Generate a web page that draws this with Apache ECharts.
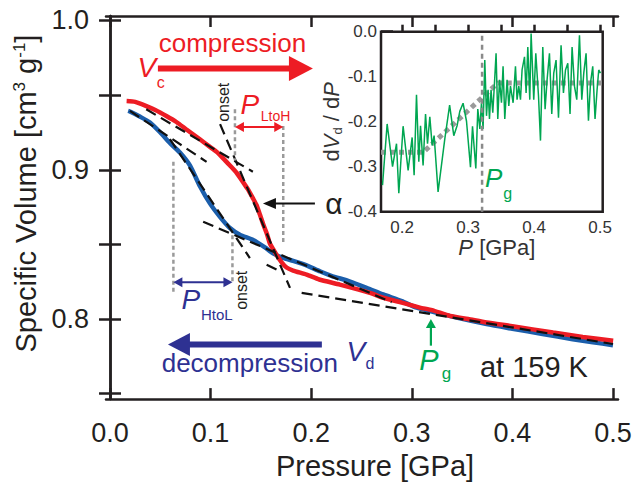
<!DOCTYPE html>
<html><head><meta charset="utf-8">
<script src="https://cdn.jsdelivr.net/npm/echarts@6/dist/echarts.min.js"></script>
<style>html,body{margin:0;padding:0;background:#fff}#c{width:641px;height:485px}</style>
</head><body><div id="c"></div>
<script>
// ---------- data ----------
const redP = [0.0165,0.025,0.035,0.045,0.056,0.066,0.076,0.089,0.100,0.106,0.112,0.119,0.1258,0.132,0.137,0.142,0.1457,0.149,0.1523,0.156,0.159,0.162,0.1656,0.170,0.1755,0.182,0.1954,0.208,0.2285,0.2583,0.2716,0.290,0.308,0.320,0.338,0.356,0.3744,0.400,0.4405,0.470,0.5002];
const redV = [0.946,0.9455,0.943,0.940,0.936,0.932,0.927,0.9206,0.915,0.912,0.908,0.903,0.898,0.892,0.887,0.881,0.8763,0.870,0.8635,0.857,0.8505,0.847,0.843,0.8385,0.8345,0.8325,0.8298,0.8265,0.8231,0.8176,0.8143,0.811,0.8077,0.806,0.8021,0.800,0.7977,0.7952,0.791,0.788,0.7855];
const blueP = [0.018,0.0198,0.030,0.0397,0.050,0.0595,0.0695,0.0794,0.0894,0.0993,0.1093,0.1192,0.1291,0.1423,0.154,0.162,0.172,0.182,0.1954,0.2086,0.220,0.238,0.255,0.2716,0.290,0.305,0.320,0.338,0.3744,0.400,0.430,0.460,0.480,0.500];
const blueV = [0.9394,0.939,0.9355,0.9317,0.925,0.918,0.9115,0.9029,0.889,0.8775,0.8685,0.861,0.8565,0.853,0.848,0.844,0.841,0.839,0.836,0.832,0.829,0.8253,0.821,0.8165,0.812,0.8076,0.805,0.802,0.7966,0.7935,0.790,0.7865,0.7845,0.7825];
// dashed tangent lines: [P1, V1, P2, V2]
const tangentLines = [
  [0.036,0.9405,0.142,0.8987],
  [0.0198,0.9394,0.096,0.9053],
  [0.0595,0.9206,0.139,0.8409],
  [0.1094,0.9306,0.1789,0.8209],
  [0.0926,0.8652,0.280,0.8113],
  [0.1905,0.8176,0.4999,0.7833],
  [0.1557,0.8364,0.1656,0.8331]
];
// dotted vertical guides: [P, Vtop, Vbottom]
const guideLines = [
  [0.063,0.9053,0.8163],
  [0.1217,0.8561,0.8242],
  [0.1242,0.9405,0.9062],
  [0.1722,0.9294,0.8497]
];
// inset: dVd/dP
const insetP = [0.1703,0.1773,0.1855,0.1915,0.1950,0.2015,0.2091,0.2152,0.2182,0.2218,0.2253,0.2279,0.2318,0.2355,0.2385,0.2420,0.2455,0.2485,0.2545,0.2647,0.2720,0.2783,0.2833,0.2874,0.2924,0.2976,0.3036,0.3067,0.3117,0.3147,0.3178,0.3203,0.3227,0.3253,0.3279,0.3303,0.3324,0.3348,0.3374,0.3400,0.3424,0.3450,0.3476,0.3506,0.3530,0.3556,0.3591,0.3617,0.3642,0.3682,0.3718,0.3742,0.3768,0.3794,0.3818,0.3855,0.3879,0.3905,0.3935,0.3955,0.3995,0.4026,0.4067,0.4097,0.4132,0.4167,0.4197,0.4233,0.4268,0.4298,0.4333,0.4370,0.4409,0.4445,0.4476,0.4511,0.4545,0.4576,0.4612,0.4647,0.4688,0.4723,0.4753,0.4788,0.4824,0.4855,0.4889,0.4924,0.4955,0.4980,0.5006];
const insetD = [-0.341,-0.205,-0.300,-0.249,-0.359,-0.210,-0.308,-0.235,-0.319,-0.140,-0.289,-0.209,-0.297,-0.183,-0.249,-0.189,-0.253,-0.231,-0.356,-0.238,-0.163,-0.231,-0.209,-0.177,-0.159,-0.199,-0.301,-0.210,-0.304,-0.172,-0.216,-0.158,-0.216,-0.063,-0.187,-0.129,-0.194,-0.129,-0.180,-0.114,-0.048,-0.194,-0.107,-0.158,-0.077,-0.194,-0.107,-0.165,-0.121,-0.158,-0.077,-0.151,-0.121,-0.151,-0.085,-0.056,-0.136,-0.034,-0.151,-0.004,-0.151,-0.048,-0.143,-0.242,-0.034,-0.172,-0.107,-0.048,-0.183,-0.092,-0.063,-0.191,-0.030,-0.136,-0.085,-0.070,-0.183,-0.034,-0.121,-0.151,-0.008,-0.151,-0.092,-0.048,-0.198,-0.114,-0.077,-0.194,-0.129,-0.085,-0.092];
const trendP = [0.168,0.232,0.345,0.504];
const trendD = [-0.268,-0.268,-0.114,-0.114];
const pgInset = 0.3212;
// tick values
const xTicks = [0,0.1,0.2,0.3,0.4,0.5];
const yTicks = [0.75,0.8,0.85,0.9,0.95,1.0];
const yLabels = [0.8,0.9,1.0];
const inXTicks = [0.2,0.25,0.3,0.35,0.4,0.45,0.5];
const inXLabels = [0.2,0.3,0.4,0.5];
const inYTicks = [-0.4,-0.3,-0.2,-0.1,0];

// ---------- style ----------
const FONT = "'Liberation Sans', Arial, Helvetica, sans-serif";
const INK = '#231f20', RED = '#ed1c24', BLUE = '#1b5eab', NAVY = '#2e3192', GREEN = '#00a651', GRAY = '#9a9a9a';

const zip = (a,b) => a.map((v,i)=>[v,b[i]]);
const chart = echarts.init(document.getElementById('c'), null, {renderer:'svg'});

function mainAxisCommon(){
  return {type:'value', axisLine:{show:true, lineStyle:{color:INK,width:2.5}},
    axisTick:{show:true, inside:true, length:11, lineStyle:{color:INK,width:2.5}},
    splitLine:{show:false}};
}
const xMain = Object.assign(mainAxisCommon(), {gridIndex:0, position:'bottom', min:-0.004, max:0.505,
  axisTick:{show:true, inside:true, length:11, lineStyle:{color:INK,width:2.5}, customValues:xTicks},
  axisLabel:{customValues:xTicks, formatter:v=>v.toFixed(1), fontSize:27, fontFamily:FONT, color:INK, margin:20},
  name:'Pressure [GPa]', nameLocation:'middle', nameGap:47,
  nameTextStyle:{fontSize:29, fontFamily:FONT, color:INK, padding:[0,0,0,26]}});
const xTop = Object.assign(mainAxisCommon(), {gridIndex:0, position:'top', min:-0.004, max:0.505,
  axisTick:{show:true, inside:true, length:11, lineStyle:{color:INK,width:2.5}, customValues:xTicks},
  axisLabel:{show:false}});
const yMain = Object.assign(mainAxisCommon(), {gridIndex:0, position:'left', min:0.7464, max:1.003,
  axisTick:{show:true, inside:true, length:11, lineStyle:{color:INK,width:2.5}, customValues:yTicks},
  axisLabel:{customValues:yLabels, formatter:v=>v.toFixed(1), fontSize:27, fontFamily:FONT, color:INK, margin:17},
  name:'Specific Volume [cm{sup|3} g{sup|-1}]', nameLocation:'middle', nameGap:62,
  nameTextStyle:{fontSize:29, fontFamily:FONT, color:INK, padding:[0,0,0,28],
    rich:{sup:{fontSize:17, fontFamily:FONT, color:INK, padding:[0,0,14,0]}}}});
const yRight = Object.assign(mainAxisCommon(), {gridIndex:0, position:'right', min:0.7464, max:1.003,
  axisTick:{show:true, inside:true, length:11, lineStyle:{color:INK,width:2.5}, customValues:yTicks},
  axisLabel:{show:false}});
const xInset = {type:'value', gridIndex:1, position:'bottom', min:0.168, max:0.504,
  axisLine:{show:false}, splitLine:{show:false},
  axisTick:{show:true, inside:true, length:7, lineStyle:{color:INK,width:2.5}, customValues:inXTicks},
  axisLabel:{customValues:inXLabels, formatter:v=>v.toFixed(1), fontSize:17, fontFamily:FONT, color:'#333', margin:7},
  name:'{i|P} [GPa]', nameLocation:'middle', nameGap:22,
  nameTextStyle:{fontSize:22, fontFamily:FONT, color:'#333', padding:[0,0,0,10],
    rich:{i:{fontStyle:'italic', fontSize:22, fontFamily:FONT, color:'#333'}}}};
const yInset = {type:'value', gridIndex:1, position:'left', min:-0.4, max:0,
  axisLine:{show:false}, splitLine:{show:false},
  axisTick:{show:true, inside:true, length:12, lineStyle:{color:INK,width:2.5}, customValues:inYTicks},
  axisLabel:{customValues:inYTicks, formatter:v=>v.toFixed(1), fontSize:17, fontFamily:FONT, color:'#333', margin:4},
  name:'d{i|V}{s|d} / d{i|P}', nameLocation:'middle', nameGap:37,
  nameTextStyle:{fontSize:22, fontFamily:FONT, color:'#333',
    rich:{i:{fontStyle:'italic', fontSize:22, fontFamily:FONT, color:'#333'},
          s:{fontSize:13, fontFamily:FONT, color:'#333', padding:[12,0,0,0]}}}};

const series = [];
series.push({type:'line', xAxisIndex:0, yAxisIndex:0, data:zip(blueP,blueV), showSymbol:false, smooth:0.2,
  lineStyle:{color:BLUE, width:4.5}, z:2});
series.push({type:'line', xAxisIndex:0, yAxisIndex:0, data:zip(redP,redV), showSymbol:false, smooth:0.2,
  lineStyle:{color:RED, width:4.5}, z:3});
tangentLines.forEach(s => series.push({type:'line', xAxisIndex:0, yAxisIndex:0,
  data:[[s[0],s[1]],[s[2],s[3]]], showSymbol:false, lineStyle:{color:'#111', width:2.2, type:[11,6]}, z:4}));
guideLines.forEach(s => series.push({type:'line', xAxisIndex:0, yAxisIndex:0,
  data:[[s[0],s[1]],[s[0],s[2]]], showSymbol:false, lineStyle:{color:GRAY, width:2.5, type:[4,3]}, z:4}));
const insetIdx = series.length;
series.push({type:'line', xAxisIndex:2, yAxisIndex:2, data:zip(trendP,trendD), showSymbol:false,
  lineStyle:{color:GRAY, width:5, type:[5,4]}, z:5});
series.push({type:'line', xAxisIndex:2, yAxisIndex:2, data:zip(insetP,insetD), showSymbol:false,
  lineStyle:{color:GREEN, width:1.5}, z:6});
series.push({type:'line', xAxisIndex:2, yAxisIndex:2, data:[[pgInset,-0.4],[pgInset,0]], showSymbol:false,
  lineStyle:{color:'#8a8a8a', width:2.5, type:[5,4]}, z:7});

chart.setOption({
  animation:false,
  backgroundColor:'#fff',
  grid:[
    {left:106, top:16, width:512, height:387, show:false},
    {left:381, top:31.7, width:221.7, height:180, show:true, borderWidth:2.5, borderColor:INK, backgroundColor:'#fff', z:1}
  ],
  xAxis:[xMain, xTop, xInset],
  yAxis:[yMain, yRight, yInset],
  series
});

// ---------- annotations (anchored in data coordinates) ----------
const mainPx = (p,v) => chart.convertToPixel({seriesIndex:1}, [p,v]);
const insetPx = (p,v) => chart.convertToPixel({seriesIndex:insetIdx}, [p,v]);

function arrow(a, b, color, w, hl, hw, both){
  const els = [];
  const dx=b[0]-a[0], dy=b[1]-a[1], L=Math.hypot(dx,dy), ux=dx/L, uy=dy/L, nx=-uy, ny=ux;
  const s = both ? [a[0]+ux*hl*0.8, a[1]+uy*hl*0.8] : a;
  const e = [b[0]-ux*hl*0.8, b[1]-uy*hl*0.8];
  els.push({type:'line', shape:{x1:s[0],y1:s[1],x2:e[0],y2:e[1]}, style:{stroke:color, lineWidth:w}, z:50});
  const head = (t, ux, uy) => ({type:'polygon', shape:{points:[t,[t[0]-ux*hl+nx*hw, t[1]-uy*hl+ny*hw],[t[0]-ux*hl-nx*hw, t[1]-uy*hl-ny*hw]]},
    style:{fill:color}, z:51});
  els.push(head(b, ux, uy));
  if (both) els.push(head(a, -ux, -uy));
  return els;
}
function txt(pt, text, size, color, opts){
  opts = opts || {};
  return {type:'text', x:pt[0], y:pt[1], rotation:opts.rot||0, z:60,
    style:{text, fill:color, font:(opts.italic?'italic ':'')+size+'px '+FONT, align:'center', verticalAlign:'middle'}};
}

// annotation anchor positions (P, V)
const annCompressionArrow = [[0.0476,0.9678],[0.2017,0.9678]];
const annDecompressionArrow = [[0.2106,0.7829],[0.0576,0.7829]];
const annLtoH = [[0.1242,0.9287],[0.1722,0.9287]];
const annHtoL = [[0.063,0.8247],[0.1217,0.8247]];
const annAlphaArrow = [[0.2037,0.8774],[0.152,0.8774]];
const annPgArrow = [[0.319,0.7822],[0.319,0.800]];

const g = [];
g.push(...arrow(mainPx(...annCompressionArrow[0]), mainPx(...annCompressionArrow[1]), RED, 6, 24, 12.5, false));
g.push(...arrow(mainPx(...annDecompressionArrow[0]), mainPx(...annDecompressionArrow[1]), NAVY, 6, 22, 11.5, false));
g.push(...arrow(mainPx(...annLtoH[0]), mainPx(...annLtoH[1]), RED, 2, 9, 5, true));
g.push(...arrow(mainPx(...annHtoL[0]), mainPx(...annHtoL[1]), NAVY, 2, 9, 5, true));
g.push(...arrow(mainPx(...annAlphaArrow[0]), mainPx(...annAlphaArrow[1]), '#111', 2.2, 13, 5.5, false));
g.push(...arrow(mainPx(...annPgArrow[0]), mainPx(...annPgArrow[1]), GREEN, 2.2, 9, 5, false));

g.push(txt(mainPx(0.1217,0.985), 'compression', 26, RED));
g.push(txt(mainPx(0.0367,0.9684), 'V', 28, RED, {italic:true}));
g.push(txt(mainPx(0.0505,0.9585), 'c', 16, RED));
g.push(txt(mainPx(0.139,0.9439), 'P', 28, RED, {italic:true}));
g.push(txt(mainPx(0.1645,0.9359), 'LtoH', 14, RED));
g.push(txt(mainPx(0.1132,0.9452), 'onset', 16, INK, {rot:Math.PI/2}));
g.push(txt(mainPx(0.1306,0.8193), 'onset', 16, INK, {rot:Math.PI/2}));
g.push(txt(mainPx(0.2226,0.8774), 'α', 30, INK));
g.push(txt(mainPx(0.0804,0.8130), 'P', 28, NAVY, {italic:true}));
g.push(txt(mainPx(0.1062,0.8030), 'HtoL', 15, NAVY));
g.push(txt(mainPx(0.139,0.7704), 'decompression', 26, NAVY));
g.push(txt(mainPx(0.2445,0.7784), 'V', 28, NAVY, {italic:true}));
g.push(txt(mainPx(0.2585,0.7704), 'd', 16, NAVY));
g.push(txt(mainPx(0.317,0.7724), 'P', 29, GREEN, {italic:true}));
g.push(txt(mainPx(0.3345,0.7638), 'g', 17, GREEN));
g.push(txt(mainPx(0.4214,0.7678), 'at 159 K', 29, INK));
g.push(txt(insetPx(0.3389,-0.326), 'P', 26, GREEN, {italic:true}));
g.push(txt(insetPx(0.3600,-0.359), 'g', 16, GREEN));

chart.setOption({graphic:{elements:g}});
</script>
</body></html>
